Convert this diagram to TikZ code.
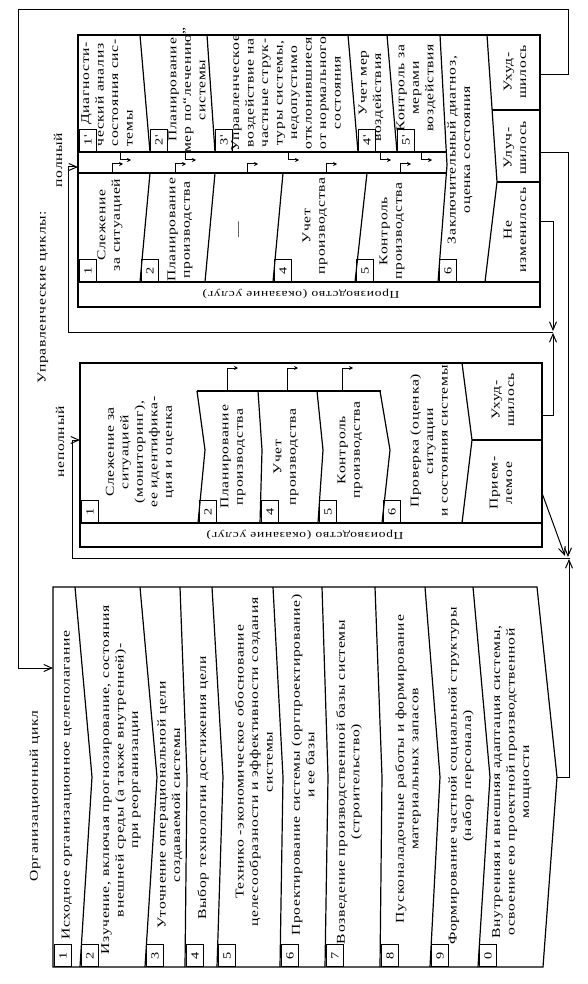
\documentclass[tikz,border=0pt]{standalone}
\usepackage{fontspec}
\newfontfamily\cyrfont[FakeStretch=1.3,LetterSpace=6]{Liberation Serif}
\usetikzlibrary{arrows.meta}

\tikzset{
  boxline/.style={line width=1.2pt},
  divider/.style={line width=1.2pt},
  link/.style={line width=1pt,-{Straight Barb[length=8pt,width=7pt]}},
  stub/.style={line width=1pt,-{Stealth[length=4pt,width=4pt]}},
  % rotated number box: anchor north west = lower left corner on the page
  num/.style={draw,line width=1pt,rotate=90,anchor=north west,minimum width=22pt,
    minimum height=17pt,inner sep=0pt,font=\cyrfont\fontsize{11}{12}\selectfont},
  txt/.style={rotate=90,align=center,inner sep=0pt,font=\cyrfont\fontsize{12}{14.5}\selectfont},
  band/.style={rotate=180,inner sep=0pt,font=\cyrfont\fontsize{10.5}{12}\selectfont},
}

\begin{document}
\begin{tikzpicture}[x=1pt,y=-1pt]
	\useasboundingbox (0,0) rectangle (588,984);

	% Organisational cycle
	\draw[boxline] (53,587) -- (537,587) -- (557,777) -- (543,967) -- (53,967) -- cycle;
	\foreach \a/\b/\c in {75/92/80,140/157/145,180/187/185,212/223/217,273/283/280,
	                      322/328/325,375/382/380,425/440/430,473/490/478}
		\draw[divider] (\a,587) -- (\b,777) -- (\c,967);
	\foreach \x/\n in {54/1,81/2,146/3,186/4,218/5,281/6,326/7,381/8,431/9,479/0}
		\node[num] (onum\n) at (\x,967) {\n};
	\node[txt] (orglabel) at (35,796) {Организационный цикл};
	\node[txt] (o1) at (67,785) {Исходное организационное целеполагание};
	\node[txt] (o2) at (121,780) {Изучение, включая прогнозирование, состояния\\внешней среды (а также внутренней)-\\при реорганизации};
	\node[txt] (o3) at (170,805) {Уточнение операциональной цели\\создаваемой системы};
	\node[txt] (o4) at (203,788) {Выбор технологии достижения цели};
	\node[txt] (o5) at (254,762) {Технико -экономическое обоснование\\целесообразности и эффективности создания\\системы};
	\node[txt] (o6) at (303,765) {Проектирование системы (оргпроектирование)\\и ее базы};
	\node[txt] (o7) at (349,782) {Возведение производственной базы системы\\(строительство)};
	\node[txt] (o8) at (408,769) {Пусконаладочные работы и формирование\\материальных запасов};
	\node[txt] (o9) at (461,776) {Формирование частной социальной структуры\\(набор персонала)};
	\node[txt] (o0) at (512,782) {Внутренняя и внешняя адаптация системы,\\освоение ею проектной производственной\\мощности};

	% Management cycles
	\node[txt] (mlabel) at (43,297) {Управленческие циклы:};

	% full cycle
	\node[txt] (flabel) at (58,160) {полный};
	\draw[boxline] (78,35) rectangle (540,307);
	\draw[boxline] (78,282) -- (540,282);
	\draw[boxline] (78,152) -- (446,152);
	\draw[boxline] (78,173) -- (446,173);
	\foreach \a/\b in {140/150,207/215,348/358,387/397}
		\draw[divider] (\a,35) -- (\b,152);
	\foreach \a/\b in {150/140,215/205,283/273,367/355}
		\draw[divider] (\a,173) -- (\b,282);
	\draw[divider] (440,35) -- (447,165) -- (438,282);
	\draw[divider] (487,35) -- (497,182) -- (485,282);
	\draw[divider] (492,110) -- (540,110);
	\draw[divider] (497,182) -- (540,182);
	\foreach \x in {112,175,247,326,400}
		\draw[stub] (\x,173) |- ++(11,-9);
	\foreach \x in {120,185,288,380,421}
		\draw[stub] (\x,152) |- ++(11,8);
	\foreach \x/\n in {79/1,150/2,215/3,358/4,397/5}
		\node[num] (fup\n) at (\x,152) {\n'};
	\foreach \x/\n in {79/1,141/2,274/4,356/5,439/6}
		\node[num] (flo\n) at (\x,282) {\n};
	\node[txt,align=left] (fu1) at (107,93) {\hspace*{22pt}Диагности-\\ческий анализ\\состояния сис-\\темы};
	\node[txt] (fu2) at (187,90) {Планирование\\мер по“лечению”\\системы};
	\node[txt] (fu3) at (286,93) {Управленческое\\воздействие на\\частные струк-\\туры системы,\\недопустимо\\отклонившиеся\\от нормального\\состояния};
	\node[txt,align=left] (fu4) at (371,96) {\hspace*{26pt}Учет мер\\воздействия};
	\node[txt] (fu5) at (416,88) {Контроль за\\мерами\\воздействия};
	\node[txt] (fl1) at (110,225) {Слежение\\за ситуацией};
	\node[txt] (fl2) at (180,230) {Планирование\\производства};
	\node[txt] (fl3) at (240,230) {—};
	\node[txt] (fl4) at (315,226) {Учет\\производства};
	\node[txt] (fl5) at (392,231) {Контроль\\производства};
	\node[txt] (f6) at (460,150) {Заключительный диагноз,\\оценка состояния};
	\node[txt] (fworse) at (515,72) {Ухуд-\\шилось};
	\node[txt] (fbetter) at (515,148) {Улуч-\\шилось};
	\node[txt] (fsame) at (515,230) {Не\\изменилось};
	\node[band] (fprod) at (301,294) {Производство (оказание услуг)};

	% incomplete cycle
	\node[txt] (nlabel) at (60,442) {неполный};
	\draw[boxline] (80,363) rectangle (542,547);
	\draw[boxline] (80,523) -- (542,523);
	\draw[boxline] (197,391) -- (381,391);
	\foreach \a/\b/\c in {197/205/198,258/262/260,317/323/318,380/390/382}
		\draw[divider] (\a,391) -- (\b,450) -- (\c,523);
	\draw[divider] (462,363) -- (472,440) -- (462,523);
	\draw[divider] (472,440) -- (542,440);
	\foreach \x in {227,287,342}
		\draw[stub] (\x,391) |- ++(11,-23);
	\foreach \x/\n in {81/1,199/2,261/4,319/5,383/6}
		\node[num] (nnum\n) at (\x,523) {\n};
	\node[txt] (n1) at (140,452) {Слежение за\\ситуацией\\(мониторинг),\\ее идентифика-\\ция и оценка};
	\node[txt] (n2) at (233,457) {Планирование\\производства};
	\node[txt] (n4) at (286,457) {Учет\\производства};
	\node[txt] (n5) at (350,450) {Контроль\\производства};
	\node[txt] (n6) at (429,441) {Проверка (оценка)\\ситуации\\и состояния системы};
	\node[txt] (nworse) at (503,400) {Ухуд-\\шилось};
	\node[txt] (nok) at (501,483) {Прием-\\лемое};
	\node[band] (nprod) at (305,535) {Производство (оказание услуг)};

	% connection points
	\coordinate (oIn) at (53,668);
	\coordinate (oOut) at (557,777);
	\coordinate (fIn) at (78,167);
	\coordinate (fworseOut) at (540,75);
	\coordinate (fbetterOut) at (540,153);
	\coordinate (fsameOut) at (540,222);
	\coordinate (nIn) at (80,440);
	\coordinate (nworseOut) at (542,415);
	\coordinate (nokOut) at (542,493);
	\coordinate (fbus) at (553,332);
	\coordinate (fbusTop) at (553,331);
	\coordinate (fbusBot) at (553,333);
	\coordinate (nbus) at (570,558);
	\coordinate (nbusTop) at (568,557);
	\coordinate (nbusBot) at (569,559);
	\coordinate (nbusDiag) at (565,556);

	% feedback lines
	\draw[link] (fworseOut) -| (568,10) -| (18,668) -- (oIn);
	\draw[link] (fsameOut) -| (fbusTop);
	\draw[link] (nworseOut) -| (fbusBot);
	\draw[link] (fbus) -| (68,167) -- (fIn);
	\draw[link] (fbetterOut) -| (nbusTop);
	\draw[link] (nokOut) -- (nbusDiag);
	\draw[link] (oOut) -| (nbusBot);
	\draw[link] (nbus) -| (72,440) -- (nIn);
\end{tikzpicture}
\end{document}
